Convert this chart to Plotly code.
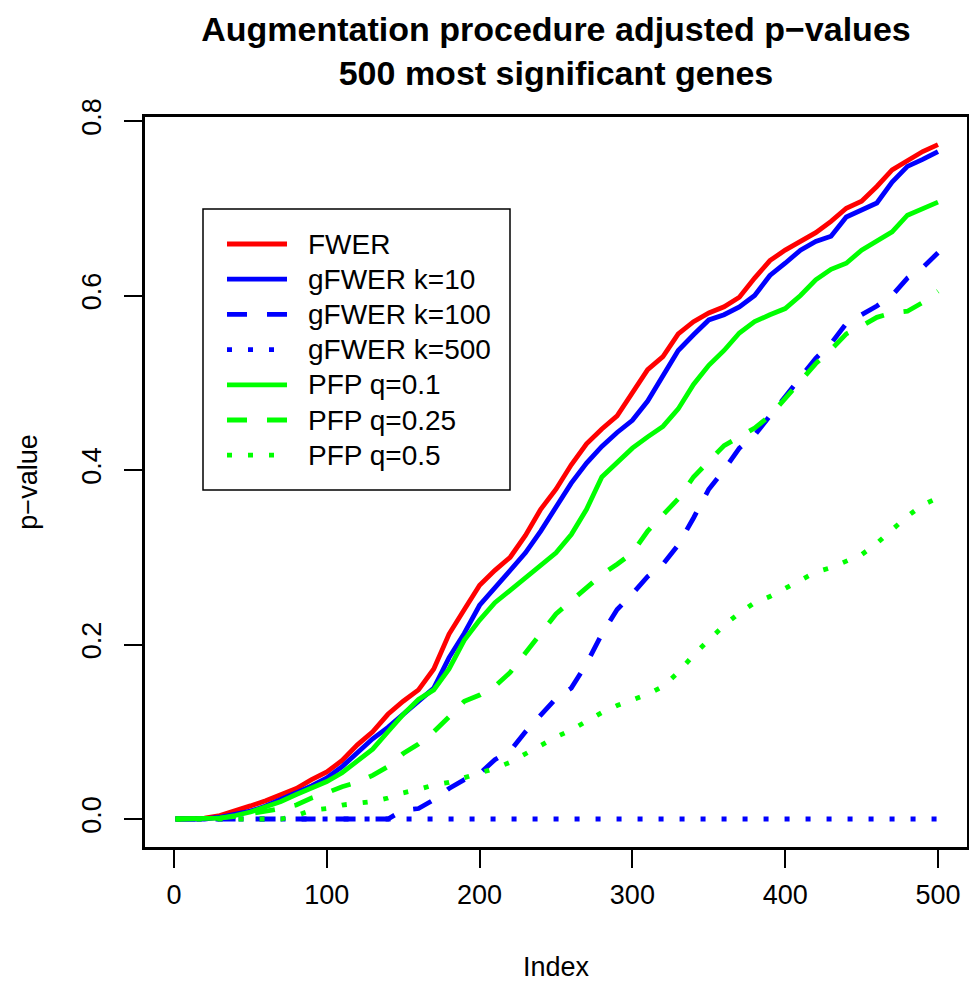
import plotly.graph_objects as go

# ---------------- data ----------------
index = [1, 10, 20, 30, 40, 50, 60, 70, 80, 90, 100, 110, 120, 130, 140, 150, 160,
         170, 180, 190, 200, 210, 220, 230, 240, 250, 260, 270, 280, 290, 300, 310,
         320, 330, 340, 350, 360, 370, 380, 390, 400, 410, 420, 430, 440, 450, 460,
         470, 480, 490, 500]

fwer = [0, 0, 0.001, 0.004, 0.009, 0.015, 0.021, 0.028, 0.035, 0.045, 0.054, 0.067,
        0.085, 0.100, 0.120, 0.135, 0.148, 0.172, 0.212, 0.240, 0.268, 0.285, 0.300,
        0.325, 0.355, 0.378, 0.406, 0.430, 0.447, 0.462, 0.488, 0.515, 0.530, 0.556,
        0.570, 0.580, 0.587, 0.598, 0.620, 0.640, 0.652, 0.662, 0.672, 0.685, 0.700,
        0.708, 0.725, 0.744, 0.755, 0.765, 0.773]

gfwer_k10 = [0, 0, 0, 0.002, 0.005, 0.009, 0.015, 0.022, 0.030, 0.038, 0.047, 0.060,
             0.076, 0.092, 0.105, 0.120, 0.135, 0.150, 0.185, 0.213, 0.245, 0.265,
             0.285, 0.305, 0.330, 0.357, 0.385, 0.408, 0.427, 0.443, 0.457, 0.479,
             0.507, 0.537, 0.555, 0.572, 0.578, 0.587, 0.600, 0.623, 0.637, 0.652,
             0.662, 0.668, 0.690, 0.698, 0.706, 0.730, 0.748, 0.756, 0.765]

gfwer_k100 = [0, 0, 0, 0, 0, 0, 0, 0, 0, 0, 0, 0, 0, 0, 0, 0.010, 0.012, 0.022,
              0.035, 0.045, 0.052, 0.068, 0.078, 0.100, 0.120, 0.138, 0.150, 0.178,
              0.212, 0.240, 0.258, 0.278, 0.292, 0.314, 0.345, 0.378, 0.400, 0.425,
              0.440, 0.462, 0.485, 0.507, 0.528, 0.545, 0.568, 0.578, 0.588, 0.600,
              0.620, 0.632, 0.649]

gfwer_k500 = [0, 0, 0, 0, 0, 0, 0, 0, 0, 0, 0, 0, 0, 0, 0, 0, 0, 0, 0, 0, 0, 0, 0,
              0, 0, 0, 0, 0, 0, 0, 0, 0, 0, 0, 0, 0, 0, 0, 0, 0, 0, 0, 0, 0, 0, 0, 0,
              0, 0, 0, 0]

pfp_q01 = [0, 0, 0, 0.001, 0.004, 0.008, 0.014, 0.020, 0.028, 0.035, 0.043, 0.053,
           0.067, 0.080, 0.100, 0.120, 0.137, 0.148, 0.172, 0.205, 0.228, 0.248,
           0.262, 0.276, 0.290, 0.305, 0.326, 0.355, 0.392, 0.408, 0.425, 0.438,
           0.450, 0.470, 0.498, 0.520, 0.537, 0.557, 0.570, 0.578, 0.585, 0.600,
           0.618, 0.630, 0.637, 0.652, 0.662, 0.673, 0.692, 0.700, 0.707]

pfp_q025 = [0, 0, 0, 0.001, 0.003, 0.006, 0.008, 0.012, 0.016, 0.024, 0.030, 0.037,
            0.042, 0.050, 0.060, 0.075, 0.086, 0.100, 0.117, 0.135, 0.142, 0.152,
            0.168, 0.190, 0.212, 0.235, 0.250, 0.265, 0.280, 0.292, 0.305, 0.330,
            0.348, 0.367, 0.392, 0.410, 0.428, 0.438, 0.448, 0.462, 0.482, 0.502,
            0.522, 0.538, 0.556, 0.565, 0.575, 0.580, 0.582, 0.592, 0.605]

pfp_q05 = [0, 0, 0, 0, 0, 0, 0, 0, 0.004, 0.010, 0.012, 0.016, 0.018, 0.020, 0.024,
           0.030, 0.034, 0.039, 0.042, 0.047, 0.052, 0.058, 0.065, 0.075, 0.084,
           0.094, 0.102, 0.112, 0.122, 0.130, 0.137, 0.143, 0.152, 0.168, 0.188,
           0.205, 0.222, 0.236, 0.248, 0.255, 0.264, 0.274, 0.283, 0.288, 0.295,
           0.303, 0.316, 0.331, 0.347, 0.360, 0.368]

series_names = ["FWER", "gFWER k=10", "gFWER k=100", "gFWER k=500",
                "PFP q=0.1", "PFP q=0.25", "PFP q=0.5"]
series_values = [fwer, gfwer_k10, gfwer_k100, gfwer_k500, pfp_q01, pfp_q025, pfp_q05]

x_ticks = [0, 100, 200, 300, 400, 500]
y_ticks = [0.0, 0.2, 0.4, 0.6, 0.8]
y_tick_labels = ["0.0", "0.2", "0.4", "0.6", "0.8"]

# ---------------- styles ----------------
colors = ["#FF0000", "#0000FF", "#0000FF", "#0000FF", "#00FF00", "#00FF00", "#00FF00"]
dashes = ["solid", "solid", "20px,20px", "5px,16px", "solid", "20px,20px", "5px,16px"]
LW = 4.8
FONT = "Liberation Sans, Arial, Helvetica, sans-serif"

W, H = 969, 982
L, R, T, B = 145, 2, 117, 135
PW, PH = W - L - R, H - T - B

def px(xp):
    return (xp - L) / PW

def py(yp):
    return (H - B - yp) / PH

fig = go.Figure()
for name, vals, c, d in zip(series_names, series_values, colors, dashes):
    fig.add_trace(go.Scatter(x=index, y=vals, mode="lines", name=name,
                             line=dict(color=c, width=LW, dash=d),
                             showlegend=False))

# ---------------- manual R-style legend ----------------
shapes = [dict(type="rect", xref="paper", yref="paper",
               x0=px(203), x1=px(510), y0=py(209), y1=py(490),
               line=dict(color="black", width=1.5), fillcolor="white", layer="above")]
annotations = []
for i, (name, c, d) in enumerate(zip(series_names, colors, dashes)):
    yc = 244 + 35.2 * i
    shapes.append(dict(type="line", xref="paper", yref="paper",
                       x0=px(227), x1=px(287), y0=py(yc), y1=py(yc),
                       line=dict(color=c, width=LW, dash=d), layer="above"))
    annotations.append(dict(text=name, xref="paper", yref="paper",
                            x=px(306), y=py(yc), xanchor="left", yanchor="middle",
                            showarrow=False, font=dict(family=FONT, size=28, color="black")))

fig.update_layout(
    width=W, height=H,
    margin=dict(l=L, r=R, t=T, b=B, autoexpand=False),
    paper_bgcolor="white", plot_bgcolor="white",
    title=dict(text="Augmentation procedure adjusted p\u2212values<br>500 most significant genes",
               x=px(556), xanchor="center", xref="paper",
               y=1 - 41 / H, yanchor="top", yref="container",
               font=dict(family=FONT, size=34, color="black", weight="bold")),
    shapes=shapes, annotations=annotations,
    showlegend=False,
)

fig.update_xaxes(range=[-19, 519], tickvals=x_ticks, ticks="outside", ticklen=18,
                 tickwidth=2, tickcolor="black", showline=True, linewidth=3,
                 linecolor="black", mirror=True, showgrid=False, zeroline=False,
                 tickfont=dict(family=FONT, size=27, color="black"),
                 ticklabelstandoff=4,
                 title=dict(text="Index", font=dict(family=FONT, size=27, color="black"),
                            standoff=50))
fig.update_yaxes(range=[-0.0321, 0.8046], tickvals=y_ticks, ticktext=y_tick_labels,
                 tickangle=-90, ticks="outside", ticklen=18, tickwidth=2,
                 tickcolor="black", showline=True, linewidth=3, linecolor="black",
                 mirror=True, showgrid=False, zeroline=False,
                 tickfont=dict(family=FONT, size=27, color="black"),
                 ticklabelstandoff=12,
                 title=dict(text="p\u2212value", font=dict(family=FONT, size=27, color="black"),
                            standoff=32))

fig.write_html("out.html",
               config={"displayModeBar": False},
               post_script="document.body.style.margin='0px';document.body.style.overflow='hidden';")
